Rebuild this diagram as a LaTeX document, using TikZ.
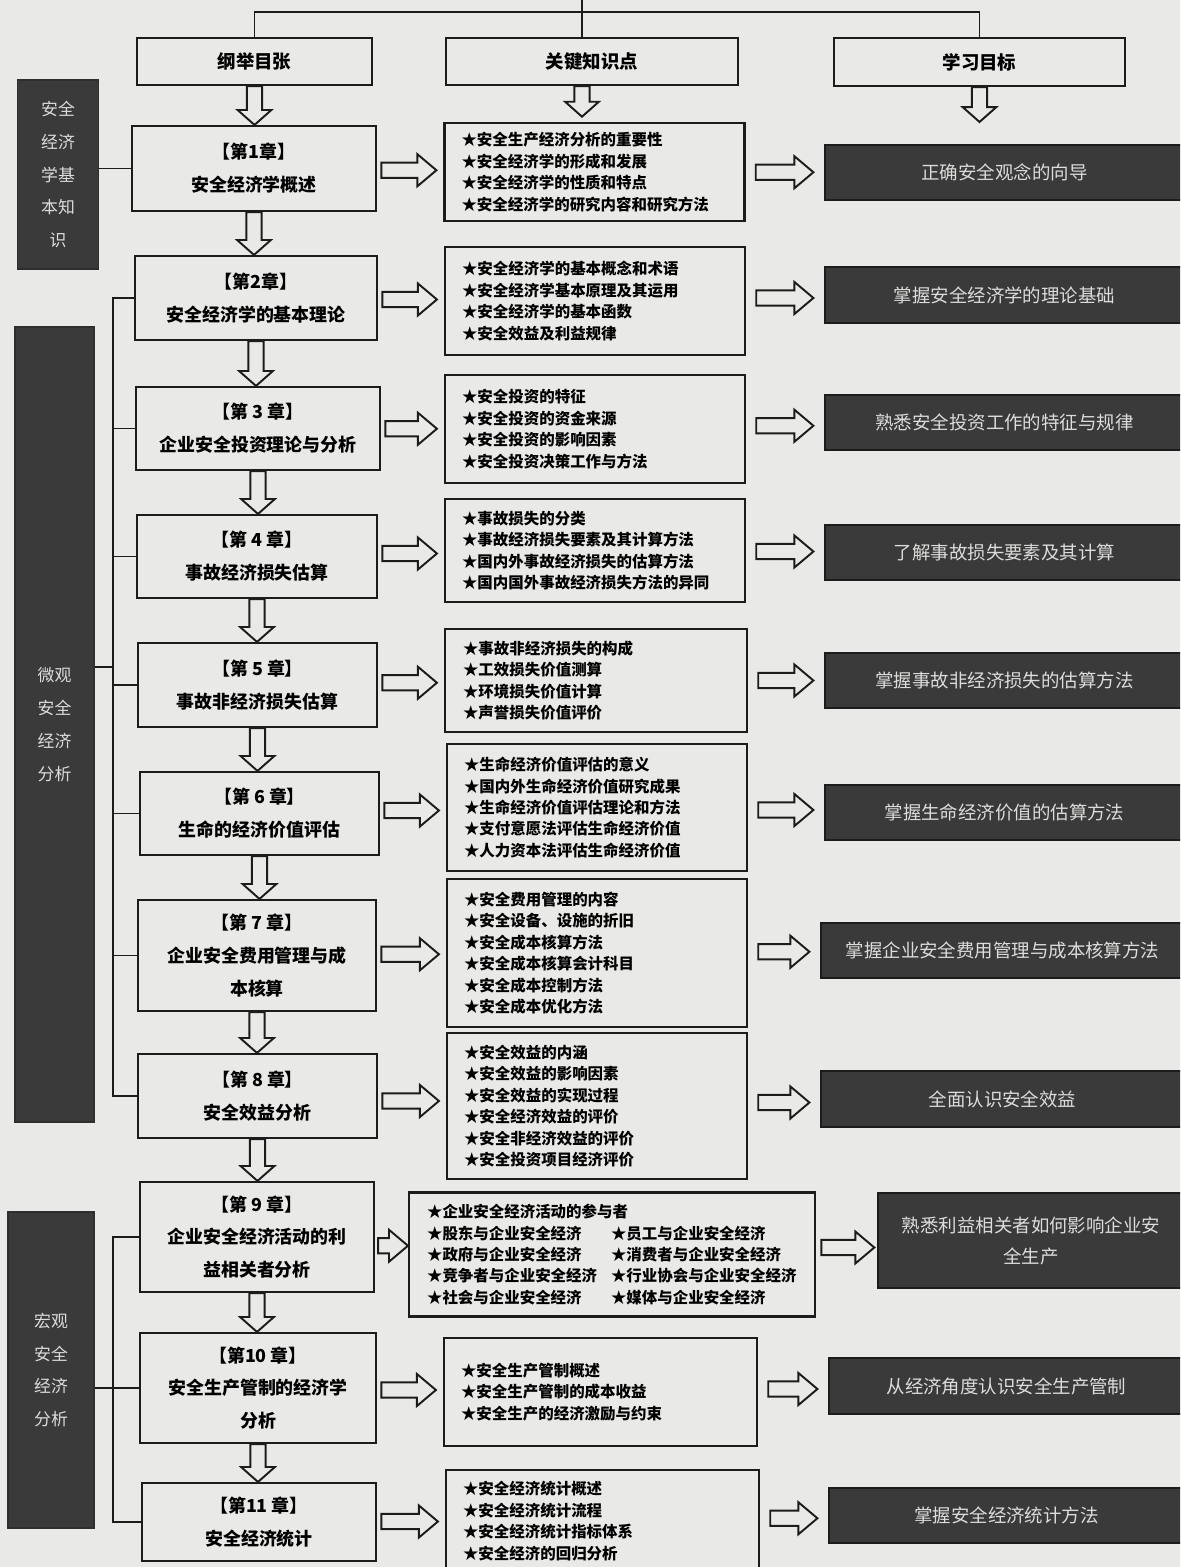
\documentclass[tikz,border=0pt]{standalone}
\usepackage{fontspec}
\setmainfont{Noto Sans CJK SC}
\usetikzlibrary{calc}

\definecolor{paper}{RGB}{233,233,231}
\definecolor{ink}{RGB}{28,28,28}
\definecolor{slate}{RGB}{58,58,58}
\definecolor{chalk}{RGB}{220,220,218}

\tikzset{
	sz/.style 2 args={minimum width=#1*0.02cm, minimum height=#2*0.02cm},
	head/.style={draw=ink, fill=paper, line width=1.2pt, inner sep=0pt, font=\fontsize{10.5}{12}\selectfont\bfseries},
	chap/.style={draw=ink, fill=paper, line width=1.2pt, inner sep=0pt, align=center, font=\fontsize{10.2}{18.7}\selectfont\bfseries},
	know/.style={draw=ink, fill=paper, line width=1.2pt, inner xsep=0.34cm, inner ysep=0pt, align=left, text width=5.32cm, font=\fontsize{8.8}{12.2}\selectfont\bfseries},
	goal/.style={draw=ink, fill=slate, line width=1.2pt, inner sep=0pt, align=center, text=chalk, font=\fontsize{10.5}{17.6}\selectfont},
	part/.style={draw=slate!80!black, fill=slate, line width=1pt, inner sep=0pt, align=center, text=chalk, font=\fontsize{9.6}{18.7}\selectfont},
	tie/.style={draw=ink, line width=0.6pt},
	rarr/.style={draw=ink, fill=paper, line width=1.1pt,
		to path={let \p1=(\tikztostart), \p2=(\tikztotarget), \n1={0.5*\y1+0.5*\y2} in
			(\x1,\n1+4.3pt) -- (\x2-10.8pt,\n1+4.3pt) -- (\x2-10.8pt,\n1+9.1pt) -- (\x2,\n1)
			-- (\x2-10.8pt,\n1-9.1pt) -- (\x2-10.8pt,\n1-4.3pt) -- (\x1,\n1-4.3pt) -- cycle}},
	darr/.style={draw=ink, fill=paper, line width=1.1pt,
		to path={let \p1=(\tikztostart), \p2=(\tikztotarget) in
			(\x1-4.3pt,\y1) -- (\x1-4.3pt,\y2+8.5pt) -- (\x1-9.6pt,\y2+8.5pt) -- (\x1,\y2)
			-- (\x1+9.6pt,\y2+8.5pt) -- (\x1+4.3pt,\y2+8.5pt) -- (\x1+4.3pt,\y1) -- cycle}}
}

\begin{document}
\begin{tikzpicture}[x=0.02cm, y=-0.02cm]
		% Page frame
		\useasboundingbox (0,0) rectangle (1180,1567);
		\clip (0,0) rectangle (1180,1567);
		\fill[paper] (0,0) rectangle (1180,1567);

		% Column heads
		\node[head, sz={235}{47}] (h1) at (254.5,61.5) {纲举目张};
		\node[head, sz={292}{47}] (h2) at (592,61.5) {关键知识点};
		\node[head, sz={291}{48}] (h3) at (979.5,62) {学习目标};

		% Parts on the left
		\node[part, sz={81}{189}] (s1) at (58,174.5) {安全\\经济\\学基\\本知\\识};
		\node[part, sz={79}{795}] (s2) at (54.5,724.5) {微观\\安全\\经济\\分析};
		\node[part, sz={86}{316}] (s3) at (51,1370) {宏观\\安全\\经济\\分析};

		% Chapters
		\node[chap, sz={244}{85}] (ch1) at (254,168.5) {【第1章】\\安全经济学概述};
		\node[chap, sz={242}{84}] (ch2) at (256,298) {【第2章】\\安全经济学的基本理论};
		\node[chap, sz={244}{83}] (ch3) at (258,428.5) {【第 3 章】\\企业安全投资理论与分析};
		\node[chap, sz={240}{83}] (ch4) at (257,556.5) {【第 4 章】\\事故经济损失估算};
		\node[chap, sz={239}{84}] (ch5) at (257.5,685) {【第 5 章】\\事故非经济损失估算};
		\node[chap, sz={239}{83}] (ch6) at (259.5,813.5) {【第 6 章】\\生命的经济价值评估};
		\node[chap, sz={238}{111}] (ch7) at (257,955.5) {【第 7 章】\\企业安全费用管理与成\\本核算};
		\node[chap, sz={239}{84}] (ch8) at (257.5,1096) {【第 8 章】\\安全效益分析};
		\node[chap, sz={234}{110}] (ch9) at (257,1237) {【第 9 章】\\企业安全经济活动的利\\益相关者分析};
		\node[chap, sz={236}{110}] (ch10) at (258,1388) {【第10 章】\\安全生产管制的经济学\\分析};
		\node[chap, sz={234}{78}] (ch11) at (259,1522) {【第11 章】\\安全经济统计};

		% Key points
		\node[know, sz={300}{98}] (k1) at (594.5,172) {★安全生产经济分析的重要性\\★安全经济学的形成和发展\\★安全经济学的性质和特点\\★安全经济学的研究内容和研究方法};
		\node[know, sz={300}{108}] (k2) at (595,301) {★安全经济学的基本概念和术语\\★安全经济学基本原理及其运用\\★安全经济学的基本函数\\★安全效益及利益规律};
		\node[know, sz={300}{108}] (k3) at (595,429) {★安全投资的特征\\★安全投资的资金来源\\★安全投资的影响因素\\★安全投资决策工作与方法};
		\node[know, sz={300}{103}] (k4) at (595,550.5) {★事故损失的分类\\★事故经济损失要素及其计算方法\\★国内外事故经济损失的估算方法\\★国内国外事故经济损失方法的异同};
		\node[know, sz={302}{103}] (k5) at (596,680.5) {★事故非经济损失的构成\\★工效损失价值测算\\★环境损失价值计算\\★声誉损失价值评价};
		\node[know, sz={300}{127}] (k6) at (597,807.5) {★生命经济价值评估的意义\\★国内外生命经济价值研究成果\\★生命经济价值评估理论和方法\\★支付意愿法评估生命经济价值\\★人力资本法评估生命经济价值};
		\node[know, sz={300}{148}] (k7) at (597,953) {★安全费用管理的内容\\★安全设备、设施的折旧\\★安全成本核算方法\\★安全成本核算会计科目\\★安全成本控制方法\\★安全成本优化方法};
		\node[know, sz={300}{146}] (k8) at (597,1106) {★安全效益的内涵\\★安全效益的影响因素\\★安全效益的实现过程\\★安全经济效益的评价\\★安全非经济效益的评价\\★安全投资项目经济评价};
		\node[know, sz={406}{124}, inner xsep=0.36cm, text width=7.4cm] (k9) at (612,1254.5) {★企业安全经济活动的参与者\\
			\makebox[3.68cm][l]{★股东与企业安全经济}★员工与企业安全经济\\
			\makebox[3.68cm][l]{★政府与企业安全经济}★消费者与企业安全经济\\
			\makebox[3.68cm][l]{★竞争者与企业安全经济}★行业协会与企业安全经济\\
			\makebox[3.68cm][l]{★社会与企业安全经济}★媒体与企业安全经济};
		\node[know, sz={313}{108}, text width=5.58cm] (k10) at (600.5,1392) {★安全生产管制概述\\★安全生产管制的成本收益\\★安全生产的经济激励与约束};
		\node[know, sz={313}{102}, text width=5.58cm] (k11) at (602.5,1521) {★安全经济统计概述\\★安全经济统计流程\\★安全经济统计指标体系\\★安全经济的回归分析};

		% Learning goals
		\node[goal, sz={359}{55}] (g1) at (1004.5,172.5) {正确安全观念的向导};
		\node[goal, sz={359}{56}] (g2) at (1004.5,295) {掌握安全经济学的理论基础};
		\node[goal, sz={359}{55}] (g3) at (1004.5,422.5) {熟悉安全投资工作的特征与规律};
		\node[goal, sz={359}{55}] (g4) at (1004.5,552.5) {了解事故损失要素及其计算};
		\node[goal, sz={359}{55}] (g5) at (1004.5,680.5) {掌握事故非经济损失的估算方法};
		\node[goal, sz={359}{55}] (g6) at (1004.5,812.5) {掌握生命经济价值的估算方法};
		\node[goal, sz={363}{55}] (g7) at (1002.5,950.5) {掌握企业安全费用管理与成本核算方法};
		\node[goal, sz={363}{56}] (g8) at (1002.5,1099) {全面认识安全效益};
		\node[goal, sz={306}{95}] (g9) at (1031,1240.5) {熟悉利益相关者如何影响企业安\\全生产};
		\node[goal, sz={355}{56}] (g10) at (1006.5,1386) {从经济角度认识安全生产管制};
		\node[goal, sz={355}{55}] (g11) at (1006.5,1515.5) {掌握安全经济统计方法};

		% Lines over the heads
		\coordinate (bar) at (582,12);
		\draw[tie] (h1.north) |- (bar) -| (h3.north);
		\draw[tie] (h2.north -| bar) -- (bar) -- ++(0,-20);

		% Brackets from the parts
		\coordinate (mb) at (113,667);
		\coordinate (wb) at (113,1388);
		\draw[tie] (s1.east |- ch1.west) -- (ch1.west);
		\draw[tie] (s2.east |- mb) -- (mb);
		\draw[tie] (ch2.west) -| (mb) |- (ch8.west);
		\foreach \i in {3,...,7} {
				\draw[tie] (ch\i.west) -- (ch\i.west -| mb);
			}
		\draw[tie] (ch9.west) -| (wb) |- (ch11.west);
		\draw[tie] (s3.east |- ch10.west) -- (ch10.west);

		% Down arrows
		\draw[darr] (h1.south) to (ch1.north);
		\draw[darr] ([xshift=-5.7pt]h2.south) to ([yshift=3pt]k1.north);
		\draw[darr] (h3.south) to ([yshift=12.5pt]g1.north);
		\foreach \i [evaluate=\i as \j using int(\i+1)] in {1,...,10} {
				\draw[darr] (ch\i.south) to (ch\j.north);
			}

		% Right arrows
		\foreach \i in {1,...,8,10,11} {
				\draw[rarr] ([xshift=2.5pt]ch\i.east) to ([xshift=-4pt]k\i.west);
				\draw[rarr] ([xshift=5.8pt]k\i.east) to ([xshift=-6pt]g\i.west);
			}
		\draw[rarr] ([xshift=1.7pt]ch9.east) to (k9.west);
		\draw[rarr] ([xshift=3pt]k9.east) to ([xshift=-1.5pt]g9.west);
\end{tikzpicture}
\end{document}
